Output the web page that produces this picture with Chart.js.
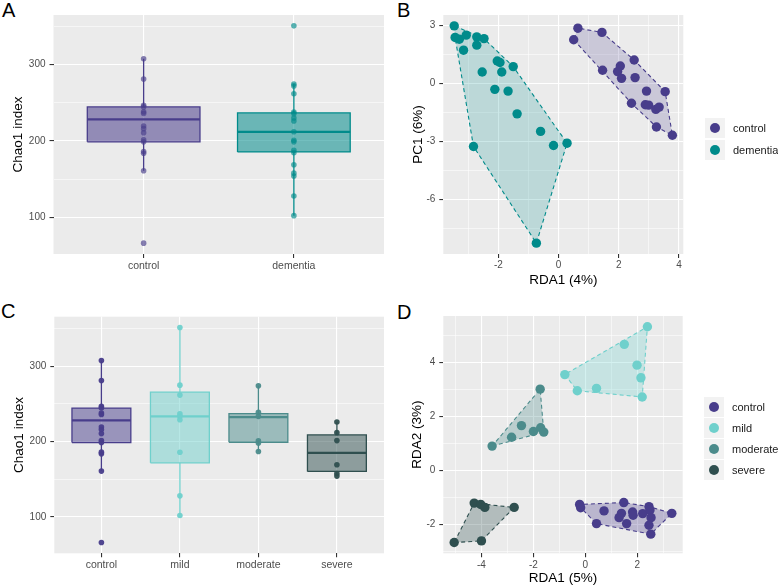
<!DOCTYPE html>
<html><head><meta charset="utf-8">
<script src="https://cdn.jsdelivr.net/npm/chart.js@4"></script>
<style>
body{margin:0;background:#fff;width:778px;height:588px;position:relative;overflow:hidden;font-family:"Liberation Sans",Arial,sans-serif}
canvas{position:absolute}
.letter{position:absolute;font-size:20px;line-height:20px;color:#000}
.key{position:absolute;width:20px;height:20px;background:#F2F2F2}
.key span{position:absolute;left:5px;top:5px;width:10px;height:10px;border-radius:50%}
.lab{position:absolute;font-size:11px;line-height:20px;color:#1a1a1a;white-space:nowrap}
</style></head><body>
<div class="letter" style="left:2px;top:0px">A</div>
<div class="letter" style="left:397px;top:0px">B</div>
<div class="letter" style="left:1px;top:301px">C</div>
<div class="letter" style="left:397px;top:302px">D</div>
<canvas id="cA" width="388" height="290" style="left:0;top:0"></canvas>
<canvas id="cB" width="390" height="290" style="left:388px;top:0"></canvas>
<canvas id="cC" width="388" height="298" style="left:0;top:290px"></canvas>
<canvas id="cD" width="390" height="298" style="left:388px;top:290px"></canvas>
<div id="legB"></div>
<div id="legD"></div>
<script>
// ---------- data ----------
const groupsA = ['control', 'dementia'];
const groupsC = ['control', 'mild', 'moderate', 'severe'];
const chao1Control  = [307.5, 281, 246.7, 244.5, 238, 236, 219.4, 216, 210.6, 201.3, 198.7, 186, 183.7, 160.8, 66];
const chao1Dementia = [350.7, 274.4, 272, 261.7, 237.9, 235.7, 230, 226, 211.9, 200.9, 198.7, 187.7, 184.6, 168.7, 157.7, 154, 127.8, 102];
const chao1Mild     = [351.5, 274.9, 261.7, 237, 233.5, 229, 185.9, 128, 101.8];
const chao1Moderate = [274, 238.8, 233.5, 200.9, 198.2, 186.8];
const chao1Severe   = [226, 211.9, 201.3, 169.2, 157.7, 154.2];
// box stats: [lower whisker, Q1, median, Q3, upper whisker]
const boxControl  = [160.8, 198.7, 228.2, 244.5, 307.5];
const boxDementia = [102, 185.5, 211.9, 236.6, 274.4];
const boxMild     = [101.8, 171.8, 233.5, 265.6, 351.5];
const boxModerate = [186.8, 199.1, 232.6, 237, 274];
const boxSevere   = [154.2, 160.4, 185, 208.8, 226];

const bControlRDA1  = [0.64, 0.50, 1.44, 1.46, 2.05, 1.96, 2.09, 2.51, 2.54, 2.92, 3.54, 2.42, 2.88, 2.99, 3.23, 3.34, 3.25, 3.78];
const bControlPC1   = [2.86, 2.26, 2.64, 0.68, 0.90, 0.61, 0.26, 1.21, 0.30, -0.40, -0.43, -1.03, -1.11, -1.13, -1.35, -1.23, -2.26, -2.69];
const bDementiaRDA1 = [-3.47, -3.44, -3.30, -3.07, -3.16, -2.72, -2.48, -2.72, -2.04, -1.95, -1.89, -1.51, -2.54, -2.12, -1.68, -1.38, -0.60, -0.17, 0.28, -2.83, -0.74];
const bDementiaPC1  = [2.98, 2.38, 2.29, 2.5, 1.72, 2.41, 2.32, 1.98, 1.16, 1.08, 0.59, 0.87, 0.59, -0.31, -0.40, -1.58, -2.49, -3.22, -3.10, -3.27, -8.28];

const dControlRDA1  = [-0.22, -0.18, 0.72, 0.43, 1.48, 1.39, 1.30, 1.59, 1.82, 1.84, 2.21, 2.45, 2.49, 2.53, 2.45, 2.52, 3.33];
const dControlRDA2  = [-1.27, -1.39, -1.51, -1.98, -1.20, -1.60, -1.76, -1.98, -1.55, -1.67, -1.61, -1.35, -1.48, -1.76, -2.04, -2.37, -1.60];
const dMildRDA1     = [2.39, 1.50, 1.99, 2.14, 2.19, -0.79, -0.31, 0.43];
const dMildRDA2     = [5.31, 4.66, 3.89, 3.42, 2.71, 3.54, 2.94, 3.03];
const dModerateRDA1 = [-1.74, -2.46, -2.84, -3.59, -2.00, -1.72, -1.60];
const dModerateRDA2 = [3.00, 1.65, 1.22, 0.89, 1.43, 1.57, 1.41];
const dSevereRDA1   = [-4.28, -4.03, -3.87, -2.74, -5.05, -4.00];
const dSevereRDA2   = [-1.22, -1.27, -1.38, -1.38, -2.68, -2.62];

const ticksChao1 = [100, 200, 300];
const ticksBx = [-2, 0, 2, 4];
const ticksBy = [-6, -3, 0, 3];
const ticksDx = [-4, -2, 0, 2];
const ticksDy = [-2, 0, 2, 4];

// ---------- styling ----------
const COL = { control: '#483D8B', dementia: '#008B8B', mild: '#6FD0CC', moderate: '#4B8B8B', severe: '#2F4F4F' };
const FONT = '"Liberation Sans", Arial, sans-serif';

function rgba(hex, a) { const n = parseInt(hex.slice(1), 16); return `rgba(${n >> 16},${(n >> 8) & 255},${n & 255},${a})`; }
function expand(vals, f = 0.05) { const mn = Math.min(...vals), mx = Math.max(...vals), r = mx - mn; return [mn - f * r, mx + f * r]; }
function minorsOf(maj, min, max) {
  const s = [...maj].sort((a, b) => a - b), step = s[1] - s[0], out = [];
  for (let v = s[0] - step / 2; v <= s[s.length - 1] + step / 2 + 1e-9; v += step) if (v >= min && v <= max) out.push(v);
  return out;
}
function axis(pos, min, max, majors, minors, label, o) {
  const isMaj = v => majors.some(m => Math.abs(m - v) < 1e-9);
  const all = majors.concat(minors).sort((a, b) => a - b);
  return {
    type: 'linear', position: pos, min, max,
    afterBuildTicks: s => { s.ticks = all.map(v => ({ value: v })); },
    afterFit: s => { if (pos === 'bottom') s.height = o.size; else s.width = o.size; },
    grid: {
      color: '#FFFFFF',
      lineWidth: c => (c.tick && isMaj(c.tick.value)) ? 1.1 : 0.55,
      tickColor: c => (c.tick && isMaj(c.tick.value)) ? '#333333' : 'rgba(0,0,0,0)',
      tickLength: 4, drawTicks: true
    },
    border: { display: false },
    ticks: { autoSkip: false, maxRotation: 0, minRotation: 0, padding: o.tickPad, color: '#4D4D4D',
      font: { family: FONT, size: o.tickSize }, callback: v => isMaj(v) ? label(v) : '' },
    title: o.title ? { display: true, text: o.title, color: '#000', font: { family: FONT, size: 13.5, lineHeight: 1.2 }, padding: o.titlePad } : { display: false }
  };
}
const bgPlugin = { id: 'panelBg', beforeDraw(chart) {
  const { ctx, chartArea: a } = chart; ctx.save(); ctx.fillStyle = '#EBEBEB';
  ctx.fillRect(a.left, a.top, a.right - a.left, a.bottom - a.top); ctx.restore(); } };

function boxSets(pos, st, vals, color, alpha, ptAlpha, ptR) {
  const [lo, q1, med, q3, hi] = st, h = 0.375;
  const line = (data, w, ord, extra) => Object.assign({ type: 'line', data, borderColor: color, borderWidth: w, pointRadius: 0, fill: false, order: ord }, extra || {});
  return [
    line([{ x: pos, y: lo }, { x: pos, y: q1 }], 1.3, 5),
    line([{ x: pos, y: q3 }, { x: pos, y: hi }], 1.3, 5),
    line([{ x: pos - h, y: q1 }, { x: pos + h, y: q1 }, { x: pos + h, y: q3 }, { x: pos - h, y: q3 }, { x: pos - h, y: q1 }], 1.3, 4,
      { fill: 'shape', backgroundColor: rgba(color, alpha) }),
    line([{ x: pos - h, y: med }, { x: pos + h, y: med }], 2.2, 3),
    { type: 'scatter', data: vals.map(v => ({ x: pos, y: v })), backgroundColor: rgba(color, ptAlpha), pointRadius: ptR, pointBorderWidth: 0, borderWidth: 0, order: 1 }
  ];
}
function hull(xs, ys) {
  const p = xs.map((x, i) => [x, ys[i]]).sort((a, b) => a[0] - b[0] || a[1] - b[1]);
  const cr = (o, a, b) => (a[0] - o[0]) * (b[1] - o[1]) - (a[1] - o[1]) * (b[0] - o[0]);
  const lo = [], up = [];
  for (const q of p) { while (lo.length >= 2 && cr(lo[lo.length - 2], lo[lo.length - 1], q) <= 0) lo.pop(); lo.push(q); }
  for (let i = p.length - 1; i >= 0; i--) { const q = p[i]; while (up.length >= 2 && cr(up[up.length - 2], up[up.length - 1], q) <= 0) up.pop(); up.push(q); }
  up.pop(); lo.pop();
  const h = lo.concat(up); h.push(h[0]);
  return h.map(([x, y]) => ({ x, y }));
}
function groupSets(xs, ys, color, alpha) {
  return [
    { type: 'line', data: hull(xs, ys), borderColor: color, borderDash: [4, 3], borderWidth: 1.1, backgroundColor: rgba(color, alpha), fill: 'shape', pointRadius: 0, order: 3 },
    { type: 'scatter', data: xs.map((x, i) => ({ x, y: ys[i] })), backgroundColor: color, pointRadius: 4.7, pointBorderWidth: 0, borderWidth: 0, order: 1 }
  ];
}
function make(id, datasets, xs, ys, padding) {
  return new Chart(document.getElementById(id), {
    type: 'scatter', data: { datasets }, plugins: [bgPlugin],
    options: { responsive: false, animation: false, devicePixelRatio: 1, events: [],
      layout: { padding },
      plugins: { legend: { display: false }, tooltip: { enabled: false } },
      scales: { x: xs, y: ys } }
  });
}

// ---------- panel A ----------
{
  const [mn, mx] = expand(chao1Control.concat(chao1Dementia));
  const ds = [].concat(
    boxSets(1, boxControl, chao1Control, COL.control, 0.55, 0.65, 2.8),
    boxSets(2, boxDementia, chao1Dementia, COL.dementia, 0.55, 0.65, 2.8));
  make('cA', ds,
    axis('bottom', 0.4, 2.6, [1, 2], [], v => groupsA[v - 1], { size: 36, tickPad: 1.5, tickSize: 10.5 }),
    axis('left', mn, mx, ticksChao1, minorsOf(ticksChao1, mn, mx), v => String(v),
      { size: 53.5, tickPad: 4, tickSize: 10, title: 'Chao1 index', titlePad: { top: 10.6, bottom: 0 } }),
    { top: 15, right: 1.5, left: 0, bottom: 0 });
}
// ---------- panel C ----------
{
  const all = chao1Control.concat(chao1Mild, chao1Moderate, chao1Severe);
  const [mn, mx] = expand(all);
  const ds = [].concat(
    boxSets(1, boxControl, chao1Control, COL.control, 0.5, 0.95, 2.8),
    boxSets(2, boxMild, chao1Mild, COL.mild, 0.5, 0.95, 2.8),
    boxSets(3, boxModerate, chao1Moderate, COL.moderate, 0.5, 0.95, 2.8),
    boxSets(4, boxSevere, chao1Severe, COL.severe, 0.5, 0.95, 2.8));
  make('cC', ds,
    axis('bottom', 0.4, 4.6, [1, 2, 3, 4], [], v => groupsC[v - 1], { size: 34.7, tickPad: 1.5, tickSize: 10.5 }),
    axis('left', mn, mx, ticksChao1, minorsOf(ticksChao1, mn, mx), v => String(v),
      { size: 54.3, tickPad: 4, tickSize: 10, title: 'Chao1 index', titlePad: { top: 11.4, bottom: 0 } }),
    { top: 26.7, right: 1.5, left: 0, bottom: 0 });
}
// ---------- panel B ----------
{
  const [xmn, xmx] = expand(bControlRDA1.concat(bDementiaRDA1));
  const [ymn, ymx] = expand(bControlPC1.concat(bDementiaPC1));
  const ds = [].concat(
    groupSets(bControlRDA1, bControlPC1, COL.control, 0.2),
    groupSets(bDementiaRDA1, bDementiaPC1, COL.dementia, 0.2));
  make('cB', ds,
    axis('bottom', xmn, xmx, ticksBx, minorsOf(ticksBx, xmn, xmx), v => String(v),
      { size: 36, tickPad: 1.5, tickSize: 10, title: 'RDA1 (4%)', titlePad: { top: 0, bottom: 1.9 } }),
    axis('left', ymn, ymx, ticksBy, minorsOf(ticksBy, ymn, ymx), v => String(v),
      { size: 55.3, tickPad: 4, tickSize: 10, title: 'PC1 (6%)', titlePad: { top: 22.2, bottom: 0 } }),
    { top: 15, right: 94.7, left: 0, bottom: 0 });
}
// ---------- panel D ----------
{
  const [xmn, xmx] = expand(dControlRDA1.concat(dMildRDA1, dModerateRDA1, dSevereRDA1));
  const [ymn, ymx] = expand(dControlRDA2.concat(dMildRDA2, dModerateRDA2, dSevereRDA2));
  const ds = [].concat(
    groupSets(dControlRDA1, dControlRDA2, COL.control, 0.3),
    groupSets(dMildRDA1, dMildRDA2, COL.mild, 0.3),
    groupSets(dModerateRDA1, dModerateRDA2, COL.moderate, 0.3),
    groupSets(dSevereRDA1, dSevereRDA2, COL.severe, 0.3));
  make('cD', ds,
    axis('bottom', xmn, xmx, ticksDx, minorsOf(ticksDx, xmn, xmx), v => String(v),
      { size: 34.7, tickPad: 1.5, tickSize: 10, title: 'RDA1 (5%)', titlePad: { top: 0, bottom: 1.6 } }),
    axis('left', ymn, ymx, ticksDy, minorsOf(ticksDy, ymn, ymx), v => String(v),
      { size: 55.3, tickPad: 4, tickSize: 10, title: 'RDA2 (3%)', titlePad: { top: 21.6, bottom: 0 } }),
    { top: 26, right: 95.3, left: 0, bottom: 0 });
}
// ---------- legends ----------
function legend(id, names, left, tops) {
  const el = document.getElementById(id);
  names.forEach((n, i) => {
    el.insertAdjacentHTML('beforeend',
      `<div class="key" style="left:${left}px;top:${tops[i]}px"><span style="background:${COL[n]}"></span></div>` +
      `<div class="lab" style="left:${left + 28}px;top:${tops[i]}px">${n}</div>`);
  });
}
legend('legB', groupsA, 705, [118, 140]);
legend('legD', groupsC, 704, [397, 418, 439, 460]);
</script>
</body></html>
